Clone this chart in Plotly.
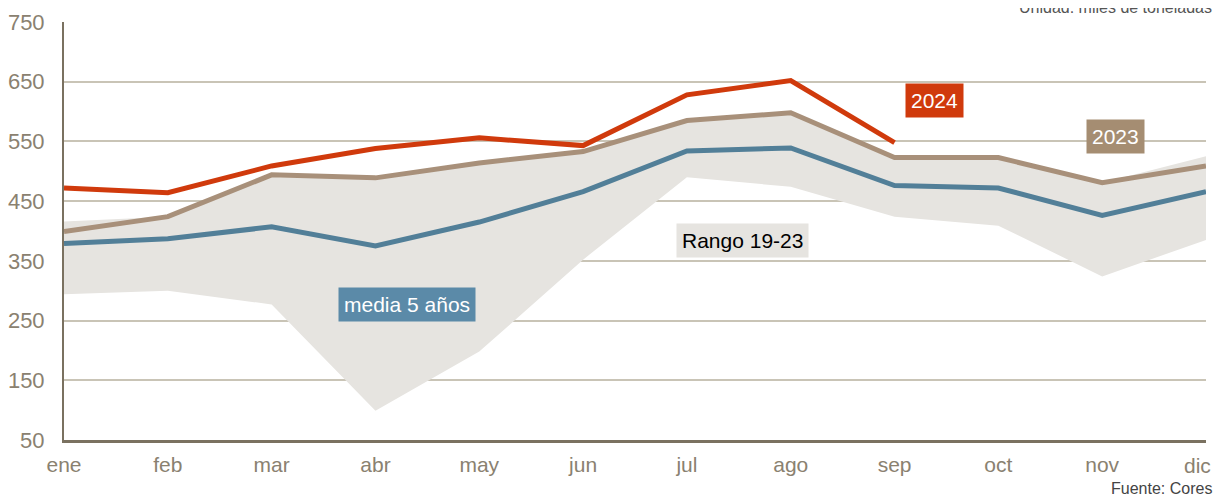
import plotly.graph_objects as go

# months and series (miles de toneladas)
meses = ["ene", "feb", "mar", "abr", "may", "jun", "jul", "ago", "sep", "oct", "nov", "dic"]
y2024 = [472, 464, 509, 538, 556, 543, 628, 652, 548]
y2023 = [399, 424, 494, 489, 514, 533, 585, 598, 523, 523, 481, 509]
media5 = [379, 387, 407, 375, 415, 466, 534, 539, 476, 472, 426, 466]
rango_max = [416, 424, 494, 489, 514, 533, 585, 598, 523, 523, 481, 525]
rango_min = [294, 300, 277, 99, 198, 352, 490, 474, 424, 409, 324, 385]
yticks = [50, 150, 250, 350, 450, 550, 650, 750]

x = list(range(len(meses)))

ROJO = "#d03a0c"
MARRON = "#a8907a"
AZUL = "#527f98"
BANDA = "#e6e4e0"
GRIS = "#8a8170"

fig = go.Figure()

# rango 19-23 band
fig.add_trace(go.Scatter(x=x, y=rango_min, mode="lines", line=dict(width=0),
                         hoverinfo="skip", showlegend=False))
fig.add_trace(go.Scatter(x=x, y=rango_max, mode="lines", line=dict(width=0),
                         fill="tonexty", fillcolor=BANDA, showlegend=False))

fig.add_trace(go.Scatter(x=x, y=media5, mode="lines",
                         line=dict(color=AZUL, width=5), showlegend=False))
fig.add_trace(go.Scatter(x=x, y=y2023, mode="lines",
                         line=dict(color=MARRON, width=5), showlegend=False))
fig.add_trace(go.Scatter(x=x[:len(y2024)], y=y2024, mode="lines",
                         line=dict(color=ROJO, width=5), showlegend=False))

font = "Liberation Sans, Arial, sans-serif"

def etiqueta(xv, yv, texto, bg, color="white"):
    fig.add_annotation(x=xv, y=yv, text=texto, showarrow=False,
                       bgcolor=bg, font=dict(family=font, size=21, color=color),
                       borderpad=5)

etiqueta(8.38, 618, "2024", ROJO)
etiqueta(10.13, 558, "2023", "#a58d72")
etiqueta(6.54, 384, "Rango 19-23", BANDA, "black")
etiqueta(3.30, 277, "media 5 años", "#5b8aa8")

# page has an 8px body margin, so the figure is offset by 8px
fig.add_annotation(xref="paper", yref="paper", x=1.007, y=1, xanchor="right",
                   yanchor="bottom", yshift=4, showarrow=False,
                   text="Unidad: miles de toneladas",
                   font=dict(family=font, size=16, color="#555555"))
fig.add_annotation(xref="paper", yref="paper", x=1.007, y=0, xanchor="right",
                   yanchor="middle", yshift=-48, showarrow=False,
                   text="Fuente: Cores",
                   font=dict(family=font, size=16, color="#444444"))

# last month label drawn separately so it is not cut at the right edge
ticktext = meses[:-1] + [""]
fig.add_annotation(x=x[-1], yref="paper", y=0, text=meses[-1], showarrow=False,
                   xanchor="right", xshift=7, yanchor="middle", yshift=-25,
                   font=dict(family=font, size=21, color=GRIS))

fig.update_xaxes(range=[0, 11], tickvals=x, ticktext=ticktext, showgrid=False,
                 showline=True, linecolor="#7a7160", linewidth=3,
                 ticks="outside", ticklen=4, tickcolor="rgba(0,0,0,0)",
                 zeroline=False, automargin=False,
                 tickfont=dict(family=font, size=21, color=GRIS))
fig.update_yaxes(range=[50, 750], tickvals=yticks, showgrid=True,
                 gridcolor="#c9c4b6", gridwidth=2,
                 showline=True, linecolor="#7a7160", linewidth=2,
                 ticks="outside", ticklen=13, tickcolor="rgba(0,0,0,0)",
                 zeroline=False, automargin=False,
                 tickfont=dict(family=font, size=22, color=GRIS))

fig.update_layout(width=1214, height=487, plot_bgcolor="white", paper_bgcolor="white",
                  margin=dict(l=56, r=16, t=14, b=55))

fig.write_html("out.html")
